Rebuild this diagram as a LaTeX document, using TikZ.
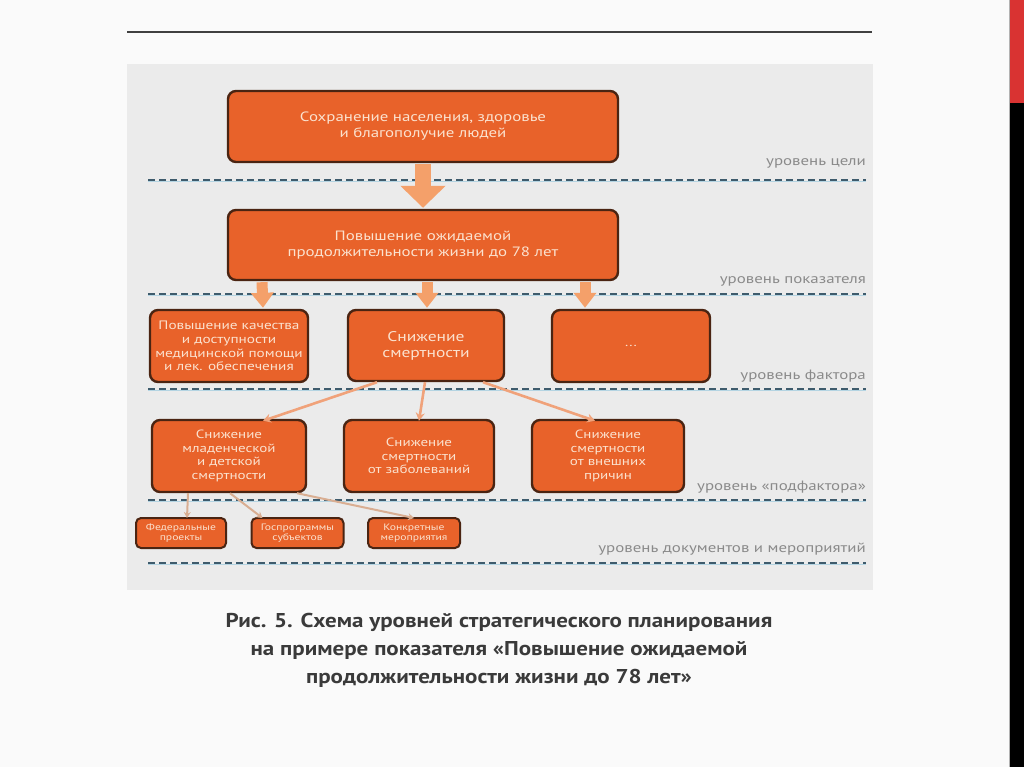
\documentclass[tikz,border=0pt]{standalone}
\usepackage{fontspec}
\setmainfont{PT Sans}
\newfontfamily\wfont[FakeStretch=1.25]{PT Sans}
\newfontfamily\capfont[FakeStretch=1.15]{PT Sans}
\usetikzlibrary{arrows.meta}
\definecolor{orfill}{HTML}{E8622A}
\definecolor{orborder}{HTML}{4A2412}
\definecolor{ortext}{HTML}{FBE2CF}
\definecolor{arrowor}{HTML}{F4A06A}
\definecolor{thinor}{HTML}{F0A27A}
\definecolor{tanline}{HTML}{D9AE92}
\definecolor{panel}{HTML}{EBEBEB}
\definecolor{dashc}{HTML}{3E5B6C}
\definecolor{dashshadow}{HTML}{B4D4E2}
\definecolor{lvl}{HTML}{8A8A8A}
\definecolor{capc}{HTML}{3A3A3A}
\definecolor{redstrip}{HTML}{D93332}
\tikzset{
  box/.style={draw=orborder, line width=2.4pt, fill=orfill, rounded corners=8pt,
    text=ortext, align=center, inner sep=1pt},
  smallbox/.style={box, line width=2pt, rounded corners=5pt},
  blockarrow/.style={draw=arrowor, line width=16pt, -{Triangle[width=44pt,length=22pt]}},
  midarrow/.style={draw=arrowor, line width=11pt, -{Triangle[width=22pt,length=15pt]}},
  thinarrow/.style={draw=thinor, line width=2.6pt, -{Stealth[width=9pt,length=8pt]}},
  tanarrow/.style={draw=tanline, line width=2pt, -{Stealth[width=7pt,length=6pt]}},
  level/.style={anchor=east, text=lvl, font=\wfont\fontsize{13.5}{15}\selectfont, inner sep=0pt},
  dashline/.style={draw=dashc, line width=2.6pt, dash pattern=on 7pt off 4pt},
}
\begin{document}
\begin{tikzpicture}[x=1pt,y=-1pt]
\useasboundingbox (0,0) rectangle (1024,767);
\fill[white!98!black] (0,0) rectangle (1024,767);
% right strip
\draw[gray!60, line width=0.8pt] (1009,0) -- (1009,767);
\fill[redstrip] (1010,0) rectangle (1024,103);
\fill[black] (1010,103) rectangle (1024,767);
% top rule
\draw[black!75, line width=2.6pt] (127,32) -- (872,32);
% panel
\fill[panel] (127,64) rectangle (873,590);
% dashed levels
\foreach \yy in {180,294,389,500,563}{
  \draw[dashshadow, line width=1.2pt] (148,\yy+1.8) -- (866,\yy+1.8);
  \draw[dashline] (148,\yy) -- (866,\yy);
}
% level labels
\node[level] (l1) at (866,163) {уровень цели};
\node[level] (l2) at (866,281) {уровень показателя};
\node[level] (l3) at (866,376) {уровень фактора};
\node[level] (l4) at (866,487) {уровень «подфактора»};
\node[level] (l5) at (866,549) {уровень документов и мероприятий};
% boxes
\node[box, minimum width=390pt, minimum height=71pt, font=\wfont\fontsize{13.5}{16}\selectfont] (n1) at (423,126.5)
  {Сохранение населения, здоровье\\и благополучие людей};
\node[box, minimum width=390pt, minimum height=70pt, font=\wfont\fontsize{13.5}{16}\selectfont] (n2) at (423,245)
  {Повышение ожидаемой\\продолжительности жизни до 78 лет};
\node[box, minimum width=158pt, minimum height=72pt, font=\wfont\fontsize{12.2}{13.7}\selectfont] (r3a) at (229,346)
  {Повышение качества\\и доступности\\медицинской помощи\\и лек. обеспечения};
\node[box, minimum width=156pt, minimum height=71pt, font=\wfont\fontsize{14}{16}\selectfont] (r3b) at (426,345.5)
  {Снижение\\смертности};
\node[box, minimum width=158pt, minimum height=72pt, font=\wfont\fontsize{12}{14}\selectfont] (r3c) at (631,346)
  {...};
\node[box, minimum width=154pt, minimum height=72pt, font=\wfont\fontsize{12}{13.7}\selectfont] (r4a) at (229,456)
  {Снижение\\младенческой\\и детской\\смертности};
\node[box, minimum width=150pt, minimum height=72pt, font=\wfont\fontsize{12}{13.7}\selectfont] (r4b) at (419,456)
  {Снижение\\смертности\\от заболеваний};
\node[box, minimum width=152pt, minimum height=72pt, font=\wfont\fontsize{12}{13.7}\selectfont] (r4c) at (608,456)
  {Снижение\\смертности\\от внешних\\причин};
\node[smallbox, minimum width=90pt, minimum height=30pt, font=\wfont\fontsize{9.3}{10.5}\selectfont] (r5a) at (181,533)
  {Федеральные\\проекты};
\node[smallbox, minimum width=92pt, minimum height=30pt, font=\wfont\fontsize{9.3}{10.5}\selectfont] (r5b) at (297.5,533)
  {Госпрограммы\\субъектов};
\node[smallbox, minimum width=92pt, minimum height=30pt, font=\wfont\fontsize{9.3}{10.5}\selectfont] (r5c) at (414,533)
  {Конкретные\\мероприятия};
% block arrows
\draw[blockarrow] ([yshift=-1pt]n1.south) -- ([yshift=1pt]n2.north);
\draw[midarrow] ([xshift=-161pt,yshift=-1pt]n2.south) -- ([xshift=34pt,yshift=1pt]r3a.north);
\draw[midarrow] ([xshift=4pt,yshift=-1pt]n2.south) -- ([xshift=1pt,yshift=1pt]r3b.north);
\draw[midarrow] ([xshift=162pt,yshift=-1pt]n2.south) -- ([xshift=-46pt,yshift=1pt]r3c.north);
% thin arrows level 3 -> 4
\draw[thinarrow] ([xshift=-49pt]r3b.south) -- ([xshift=34pt,yshift=-2pt]r4a.north);
\draw[thinarrow] ([xshift=-1pt]r3b.south) -- ([yshift=-2pt]r4b.north);
\draw[thinarrow] ([xshift=57pt]r3b.south) -- ([xshift=-13pt,yshift=-2pt]r4c.north);
% thin arrows level 4 -> 5
\draw[tanarrow] ([xshift=-41pt]r4a.south) -- ([xshift=6pt,yshift=-1pt]r5a.north);
\draw[tanarrow] ([xshift=1pt]r4a.south) -- ([xshift=-35pt,yshift=-1pt]r5b.north);
\draw[tanarrow] ([xshift=68pt]r4a.south) -- ([yshift=-1pt]r5c.north);
% caption
\node[text=capc, font=\capfont\bfseries\fontsize{20}{28}\selectfont, align=center] (cap) at (499,650)
  {Рис. 5. Схема уровней стратегического планирования\\на примере показателя «Повышение ожидаемой\\продолжительности жизни до 78 лет»};
\end{tikzpicture}
\end{document}
